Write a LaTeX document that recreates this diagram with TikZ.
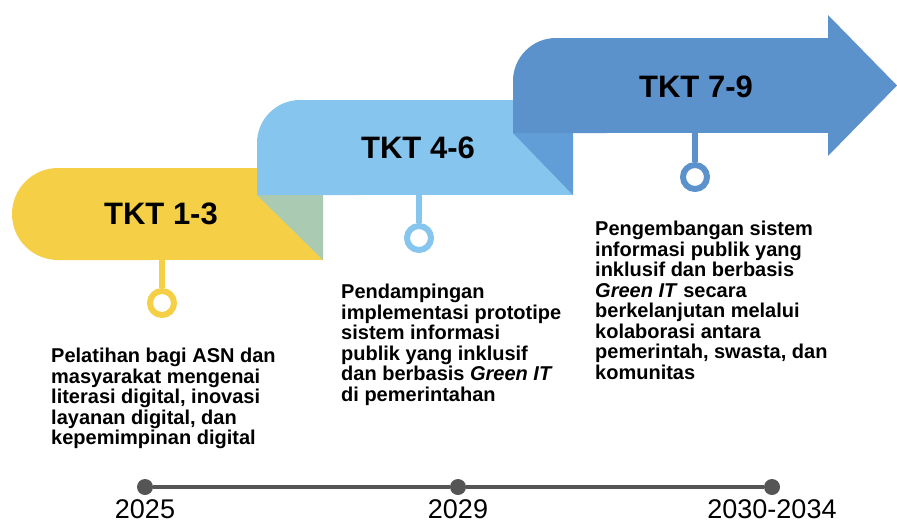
\documentclass[tikz,border=0pt]{standalone}
\usepackage{fontspec}
\setmainfont{Liberation Sans}
\definecolor{yel}{HTML}{F5D046}
\definecolor{lblue}{HTML}{86C6EE}
\definecolor{dblue}{HTML}{5B92CC}
\definecolor{mblue}{HTML}{619DD7}
\definecolor{greenish}{HTML}{AACBB2}
\definecolor{tgray}{HTML}{555555}
\tikzset{
  title/.style={font=\bfseries\fontsize{31}{31}\selectfont, text=black, inner sep=0pt},
  body/.style={font=\bfseries\fontsize{20}{20.5}\selectfont, align=left, anchor=north west, inner sep=0pt},
  ring/.style={circle, draw=#1, line width=6pt, minimum size=24pt, inner sep=0pt},
  stem/.style={draw=#1, line width=6.5pt},
  tdot/.style={circle, fill=tgray, minimum size=16pt, inner sep=0pt},
  year/.style={font=\fontsize{27}{27}\selectfont, text=black, anchor=base, inner sep=0pt}
}
\begin{document}
\begin{tikzpicture}[x=1pt,y=-1pt]
\useasboundingbox (0,0) rectangle (897,523);
% yellow band
\fill[yel, rounded corners=46pt] (12,168) rectangle (200,260);
\fill[yel] (100,168) rectangle (323,260);
% light blue band
\fill[lblue, rounded corners=43pt] (257,100) rectangle (400,195);
\fill[lblue] (300,100) rectangle (573,195);
\fill[lblue] (257,150) rectangle (400,195);
\fill[greenish] (257,195) -- (323,195) -- (323,260) -- cycle;
% dark blue arrow
\fill[dblue, rounded corners=43pt] (513,38) rectangle (650,133);
\fill[dblue] (556,38) rectangle (829,133);
\fill[dblue] (513,90) rectangle (650,133);
\fill[dblue] (828,15) -- (897,85.5) -- (828,156) -- cycle;
\fill[mblue] (513,133) -- (573,133) -- (573,195) -- cycle;
% titles
\node[title] (t1) at (161,214) {TKT 1-3};
\node[title] (t2) at (418,148) {TKT 4-6};
\node[title] (t3) at (696,87) {TKT 7-9};
% stems and rings
\coordinate (s1) at (162,260);
\coordinate (s2) at (419,195);
\coordinate (s3) at (695,133);
\node[ring=yel] (c1) at (162,303) {};
\node[ring=lblue] (c2) at (419,238) {};
\node[ring=dblue] (c3) at (695,177) {};
\draw[stem=yel] (s1) -- (c1.north);
\draw[stem=lblue] (s2) -- (c2.north);
\draw[stem=dblue] (s3) -- (c3.north);
% body texts
\node[body] (b1) at (51,348) {Pelatihan bagi ASN dan\\masyarakat mengenai\\literasi digital, inovasi\\layanan digital, dan\\kepemimpinan digital};
\node[body] (b2) at (341,284) {Pendampingan\\implementasi prototipe\\sistem informasi\\publik yang inklusif\\dan berbasis \textit{Green IT}\\di pemerintahan};
\node[body] (b3) at (595,221) {Pengembangan sistem\\informasi publik yang\\inklusif dan berbasis\\\textit{Green IT} secara\\berkelanjutan melalui\\kolaborasi antara\\pemerintah, swasta, dan\\komunitas};
% timeline
\node[tdot] (d1) at (145,487) {};
\node[tdot] (d2) at (458,487) {};
\node[tdot] (d3) at (772,487) {};
\draw[tgray, line width=4.5pt] (d1) -- (d2) -- (d3);
\node[year] (y1) at (145,518) {2025};
\node[year] (y2) at (458,518) {2029};
\node[year] (y3) at (772,518) {2030-2034};
\end{tikzpicture}
\end{document}
